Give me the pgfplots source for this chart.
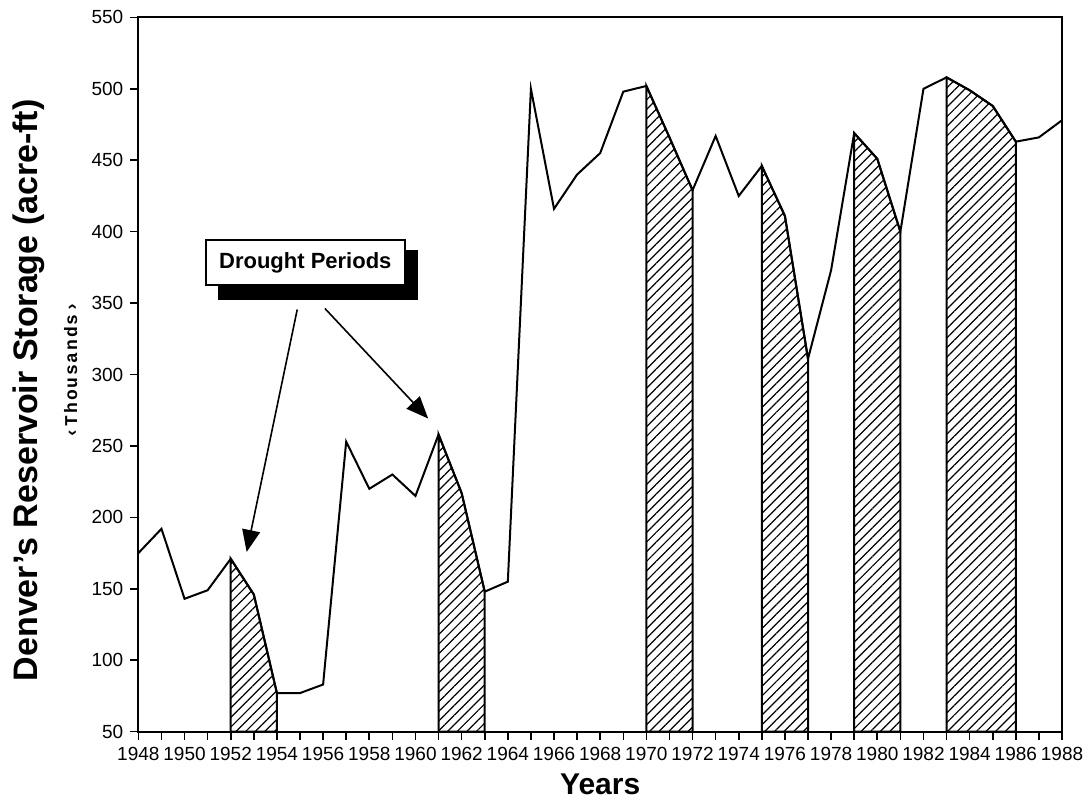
\documentclass[border=0pt]{standalone}
\usepackage{fontspec}
\setmainfont{Liberation Sans}
\newfontfamily\thoufont[LetterSpace=10]{Liberation Mono}
\usepackage{pgfplots}
\usepackage{pgfplotstable}
\pgfplotsset{compat=1.18}
\usetikzlibrary{arrows.meta,patterns.meta}

% reservoir storage, thousands of acre-ft, end of year
\pgfplotstableread{
year storage
1948 175
1949 192
1950 143
1951 149
1952 171
1953 146
1954 77
1955 77
1956 83
1957 253
1958 220
1959 230
1960 215
1961 258
1962 217
1963 148
1964 155
1965 500
1966 416
1967 440
1968 455
1969 498
1970 502
1971 466
1972 429
1973 467
1974 425
1975 446
1976 411
1977 311
1978 373
1979 469
1980 451
1981 400
1982 500
1983 508
1984 499
1985 488
1986 463
1987 466
1988 478
}\storage

\tikzset{hatch/.style={draw=black, line width=1pt,
  pattern={Lines[angle=45,distance=3.4pt,line width=0.6pt]}}}

\begin{document}
\begin{tikzpicture}
\begin{axis}[
  scale only axis,
  width=461.9pt, height=357.2pt,
  xmin=1948, xmax=1988,
  ymin=50, ymax=550,
  xtick={1948,1950,...,1988},
  minor xtick={1949,1951,...,1987},
  ytick={50,100,...,550},
  tick pos=left,
  tick align=outside,
  major tick length=4pt, minor tick length=4pt,
  every tick/.style={black, line width=0.8pt},
  axis line style={line width=1pt},
  /pgf/number format/assume math mode=true,
  /pgf/number format/1000 sep={},
  tick label style={font=\fontsize{9.5}{10}\selectfont},
  xticklabel style={yshift=-0.5pt},
  xlabel={Years},
  xlabel style={at={(axis description cs:0.5,0)}, anchor=center,
    yshift=-26.4pt, font=\bfseries\fontsize{15}{16}\selectfont},
  clip mode=individual,
]
  % drought periods
  \addplot[hatch] table[x=year, y=storage, restrict x to domain=1952:1954] {\storage} \closedcycle;
  \addplot[hatch] table[x=year, y=storage, restrict x to domain=1961:1963] {\storage} \closedcycle;
  \addplot[hatch] table[x=year, y=storage, restrict x to domain=1970:1972] {\storage} \closedcycle;
  \addplot[hatch] table[x=year, y=storage, restrict x to domain=1975:1977] {\storage} \closedcycle;
  \addplot[hatch] table[x=year, y=storage, restrict x to domain=1979:1981] {\storage} \closedcycle;
  \addplot[hatch] table[x=year, y=storage, restrict x to domain=1983:1986] {\storage} \closedcycle;

  \addplot[black, line width=1pt, mark=none] table[x=year, y=storage] {\storage};

  % callout
  \fill[black] (axis cs:1951.43,387) rectangle (axis cs:1960.11,352);
  \draw[line width=0.9pt, fill=white] (axis cs:1950.93,394) rectangle (axis cs:1959.53,362.5);
  \node[font=\bfseries\fontsize{11}{12}\selectfont] at (axis cs:1955.23,378.2) {Drought Periods};
  \draw[line width=0.8pt, -{Triangle[length=11pt,width=9pt]}]
    (axis cs:1954.88,345.5) -- (axis cs:1952.69,175.8);
  \draw[line width=0.8pt, -{Triangle[length=11pt,width=9pt]}]
    (axis cs:1956.08,346.2) -- (axis cs:1960.55,269.2);

  % y axis titles
  \node[rotate=90, anchor=base, font=\bfseries\fontsize{17}{18}\selectfont]
    at ([xshift=-50.6pt]axis cs:1948,289) {Denver's Reservoir Storage (acre-ft)};
  \node[rotate=90, anchor=base, font=\thoufont\bfseries\fontsize{9}{10}\selectfont]
    at ([xshift=-30.6pt]axis cs:1948,303) {‹Thousands›};

  \coordinate (sw) at (rel axis cs:0,0);
  \coordinate (ne) at (rel axis cs:1,1);
\end{axis}
\pgfresetboundingbox
\path ([xshift=-69.2pt,yshift=-36.2pt]sw) rectangle ([xshift=13.5pt,yshift=8.7pt]ne);
\end{tikzpicture}
\end{document}
